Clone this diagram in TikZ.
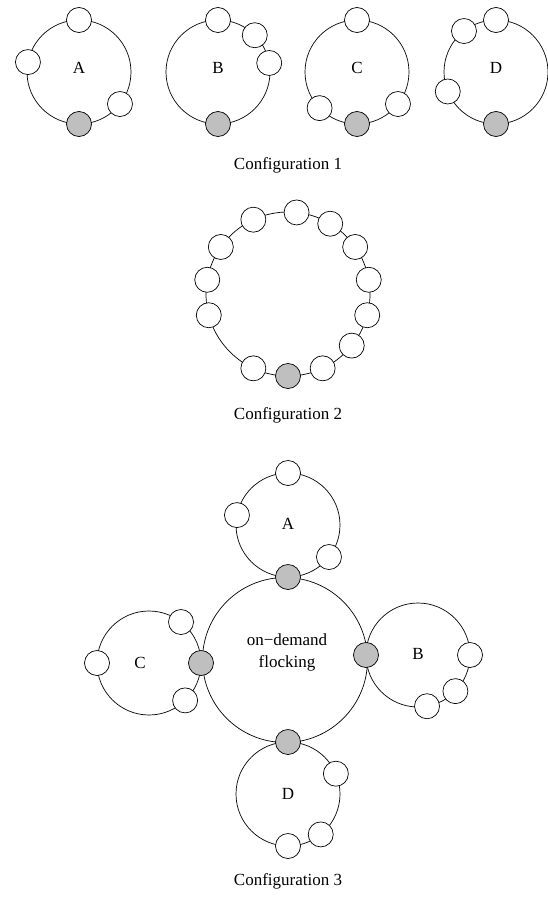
\documentclass[tikz,border=0pt]{standalone}
\usepackage{fontspec}
\setmainfont{Liberation Serif}
\usetikzlibrary{positioning}
\definecolor{peergray}{RGB}{191,191,191}
\tikzset{
	ring/.style={draw, circle, line width=0.7pt, minimum size=104pt, inner sep=0pt, outer sep=0pt},
	peer/.style={draw, circle, fill=white, line width=0.7pt, minimum size=25pt, inner sep=0pt, outer sep=0pt},
	gw/.style={peer, fill=peergray},
	letter/.style={font=\fontsize{17}{22}\selectfont, align=center},
}

\begin{document}
\begin{tikzpicture}
		[x=1pt, y=-1pt]
		\useasboundingbox (0,0) rectangle (547,897);
	
		% configuration 1 %
		\node[ring] (a1) at (79,72) {};
		\node[ring] (b1) at (218,72) {};
		\node[ring] (c1) at (357,72) {};
		\node[ring] (d1) at (496,72) {};
		\node[letter] (a1t) at (79,68) {A};
		\node[letter] (b1t) at (218,68) {B};
		\node[letter] (c1t) at (357,68) {C};
		\node[letter] (d1t) at (496,68) {D};
		\foreach \ang [count=\i] in {90,169,-38}
			\node[peer] (a1p\i) at (a1.\ang) {};
		\foreach \ang [count=\i] in {90,45,10}
			\node[peer] (b1p\i) at (b1.\ang) {};
		\foreach \ang [count=\i] in {90,-38,-136}
			\node[peer] (c1p\i) at (c1.\ang) {};
		\foreach \ang [count=\i] in {90,128,-158}
			\node[peer] (d1p\i) at (d1.\ang) {};
		\foreach \r in {a1,b1,c1,d1}
			\node[gw] (\r g) at (\r.-90) {};
		\node[letter] (cap1) at (288,165) {Configuration 1};
		
		% configuration 2 %
		\node[ring, minimum size=164pt] (r2) at (288,294) {};
		\foreach \ang [count=\i] in {84,59,35,10,-15,-39,-65,-115,-165,170,145,115}
			\node[peer] (r2p\i) at (r2.\ang) {};
		\node[gw] (r2g) at (r2.-90) {};
		\node[letter] (cap2) at (288,415) {Configuration 2};
		
		% configuration 3 %
		\node[ring, minimum size=165pt] (flock) at (285,660) {};
		\node[letter] (flockt) at (287,652) {on−demand\\flocking};
		\node[ring] (a3) at (288,525) {};
		\node[ring] (b3) at (418,655) {};
		\node[ring] (c3) at (149,663) {};
		\node[ring] (d3) at (288,794) {};
		\node[letter] (a3t) at (288,524) {A};
		\node[letter] (b3t) at (418,654) {B};
		\node[letter] (c3t) at (140,663) {C};
		\node[letter] (d3t) at (288,794) {D};
		\foreach \ang [count=\i] in {90,169,-38}
			\node[peer] (a3p\i) at (a3.\ang) {};
		\foreach \ang [count=\i] in {0,-44,-80}
			\node[peer] (b3p\i) at (b3.\ang) {};
		\foreach \ang [count=\i] in {180,52,-46}
			\node[peer] (c3p\i) at (c3.\ang) {};
		\foreach \ang [count=\i] in {-90,23,-51}
			\node[peer] (d3p\i) at (d3.\ang) {};
		\node[gw] (a3g) at (a3.-90) {};
		\node[gw] (b3g) at (b3.180) {};
		\node[gw] (c3g) at (c3.0) {};
		\node[gw] (d3g) at (d3.90) {};
		\node[letter] (cap3) at (288,881) {Configuration 3};
	
		\end{tikzpicture}
\end{document}
